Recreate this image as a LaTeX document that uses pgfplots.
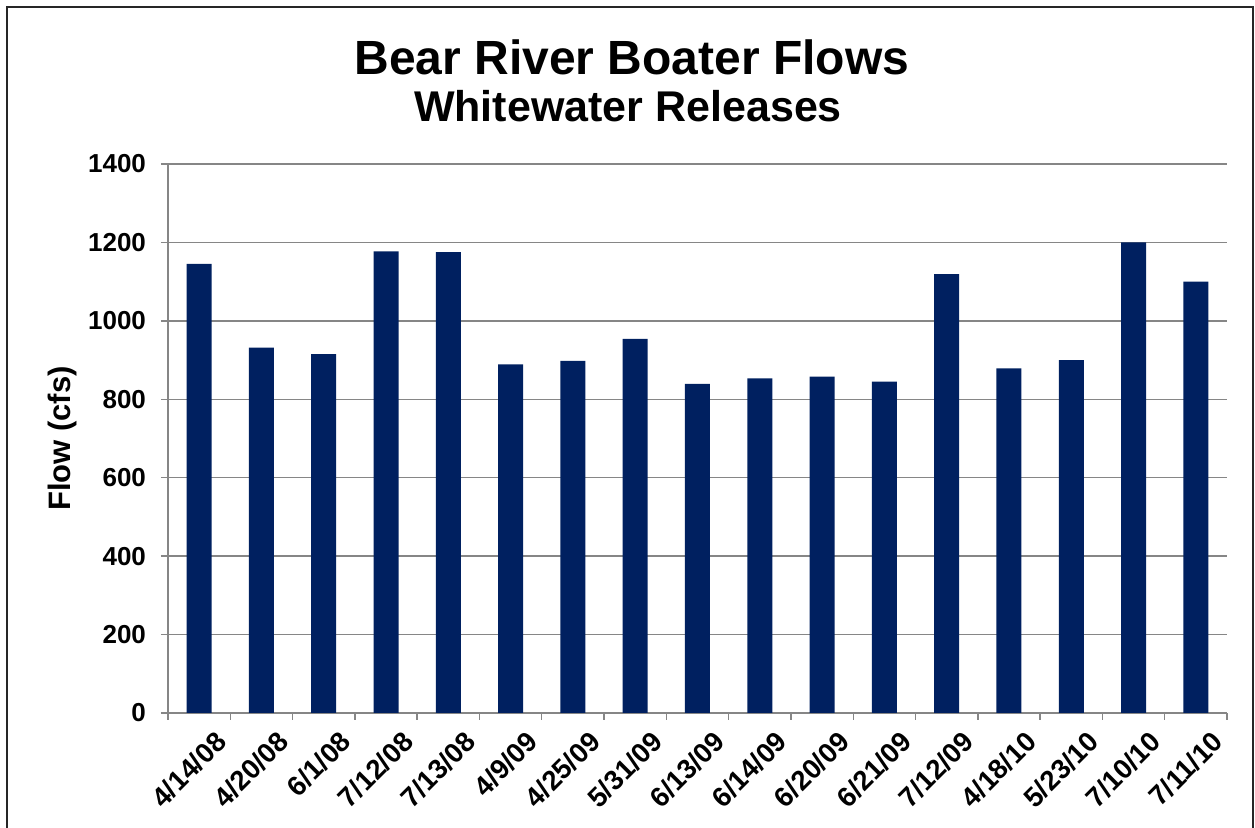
\documentclass[border=0pt]{standalone}
\usepackage{fontspec}
\setmainfont{Liberation Sans}
\usepackage{pgfplots}
\pgfplotsset{compat=1.18}
\definecolor{barblue}{HTML}{002060}
\definecolor{gridgray}{HTML}{868686}
\begin{document}
\begin{tikzpicture}
\path[use as bounding box] (-84pt,-57.5pt) rectangle (543.5pt,356.5pt);
\draw[line width=1pt,black!85] (-80.5pt,-60pt) -- (-80.5pt,353pt) -- (542.5pt,353pt) -- (542.5pt,-60pt);
\begin{axis}[
  at={(0pt,0pt)}, anchor=south west,
  scale only axis, width=529.5pt, height=274.5pt,
  xmin=-0.5, xmax=16.5, ymin=0, ymax=1400,
  ytick={0,200,...,1400},
  xtick={0,...,16},
  xticklabels={4/14/08,4/20/08,6/1/08,7/12/08,7/13/08,4/9/09,4/25/09,5/31/09,6/13/09,6/14/09,6/20/09,6/21/09,7/12/09,4/18/10,5/23/10,7/10/10,7/11/10},
  minor xtick={-0.5,0.5,...,16.5},
  axis x line*=bottom, axis y line*=left,
  axis line style={gridgray, line width=0.7pt},
  tick align=outside,
  major tick length=3.5pt, minor tick length=3.5pt,
  major x tick style={draw=none},
  minor x tick style={gridgray, line width=0.7pt},
  y tick style={gridgray, line width=0.7pt},
  ymajorgrids, grid style={gridgray, line width=0.7pt},
  /pgf/number format/assume math mode=true,
  /pgf/number format/1000 sep={},
  yticklabel style={font=\fontsize{13}{15}\selectfont\bfseries, xshift=-4pt},
  xticklabel style={font=\fontsize{13.8}{16}\selectfont\bfseries, rotate=45, anchor=north east, inner sep=1pt, yshift=-7.5pt, xshift=3pt},
  ylabel={Flow (cfs)},
  ylabel style={font=\fontsize{15.5}{18}\selectfont\bfseries, at={(axis description cs:-0.0995,0.5)}, anchor=center},
  clip=false,
]
\addplot[ybar, bar width=12.5pt, fill=barblue, draw=none] coordinates {
(0,1145) (1,932) (2,915) (3,1177) (4,1175) (5,889) (6,898) (7,954) (8,839)
(9,853) (10,858) (11,845) (12,1119) (13,879) (14,900) (15,1200) (16,1100)};
\end{axis}
\node[font=\fontsize{24}{28}\selectfont\bfseries, anchor=base] at (232pt,319pt) {Bear River Boater Flows};
\node[font=\fontsize{21.5}{25}\selectfont\bfseries, anchor=base] at (230pt,295.5pt) {Whitewater Releases};
\end{tikzpicture}
\end{document}
